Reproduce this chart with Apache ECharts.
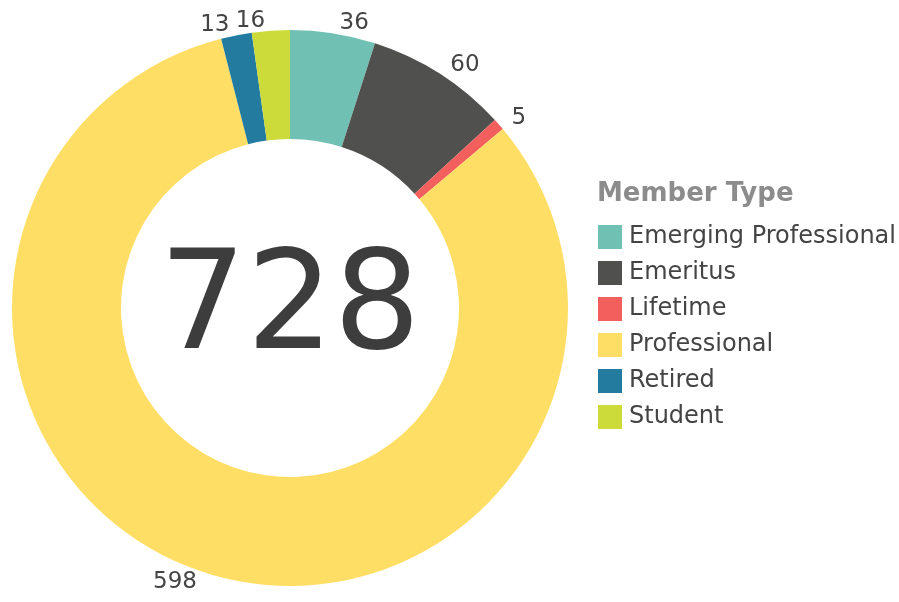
<!DOCTYPE html>
<html>
<head>
<meta charset="utf-8">
<script src="https://cdn.jsdelivr.net/npm/echarts@6/dist/echarts.min.js"></script>
<style>
  html, body { margin: 0; padding: 0; background: #fff; }
  #container { width: 899px; height: 602px; }
</style>
</head>
<body>
<div id="container"></div>
<script>
var categories = ['Emerging Professional', 'Emeritus', 'Lifetime', 'Professional', 'Retired', 'Student'];
var values = [36, 60, 5, 598, 13, 16];
var colors = ['#70c1b3', '#50514f', '#f25f5c', '#ffde66', '#247ba0', '#cddb3a'];

var total = values.reduce(function (a, b) { return a + b; }, 0);

var dom = document.getElementById('container');
var myChart = echarts.init(dom);

var option = {
    animation: false,
    color: colors,
    title: {
        text: 'Member Type',
        left: 592,
        top: 176,
        textStyle: {
            fontFamily: 'DejaVu Sans',
            fontSize: 26,
            fontWeight: 'bold',
            color: '#8c8c8c'
        }
    },
    legend: {
        orient: 'vertical',
        left: 593,
        top: 220,
        icon: 'rect',
        itemWidth: 24,
        itemHeight: 24,
        itemGap: 12,
        selectedMode: false,
        textStyle: {
            fontFamily: 'DejaVu Sans',
            fontSize: 24,
            color: '#444',
            padding: [0, 0, 0, 2]
        }
    },
    graphic: [{
        type: 'text',
        x: 290,
        y: 312,
        z: 100,
        style: {
            text: String(total),
            textAlign: 'center',
            textVerticalAlign: 'middle',
            fontFamily: 'DejaVu Sans',
            fontSize: 137,
            fill: '#3d3d3d'
        }
    }],
    series: [{
        type: 'pie',
        center: [290, 308],
        radius: [169, 278],
        startAngle: 90,
        avoidLabelOverlap: false,
        data: categories.map(function (c, i) {
            return { name: c, value: values[i] };
        }),
        label: {
            show: true,
            position: 'outside',
            formatter: '{c}',
            fontFamily: 'DejaVu Sans',
            fontSize: 23,
            color: '#444'
        },
        labelLine: {
            show: false,
            length: 10,
            length2: 0
        },
        emphasis: { disabled: true }
    }]
};

myChart.setOption(option);
window.addEventListener('resize', myChart.resize);
</script>
</body>
</html>
